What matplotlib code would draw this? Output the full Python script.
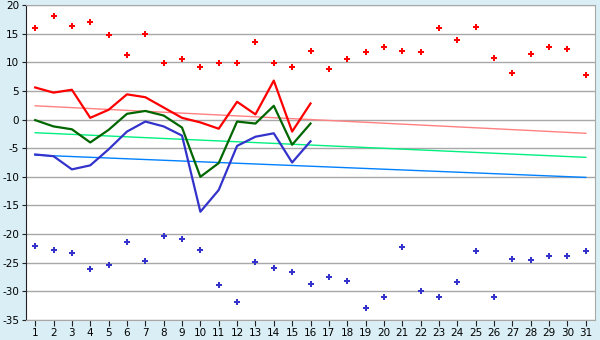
import numpy as np
import matplotlib.pyplot as plt

plt.rcParams['axes.unicode_minus'] = False

days = list(range(1, 32))

rec_max = [16.0, 18.1, 16.4, 17.1, 14.8, 11.3, 15.0, 9.9, 10.6, 9.1, 9.9, 9.8, 13.6, 9.8, 9.2, 12.0,
           8.9, 10.6, 11.8, 12.7, 12.0, 11.8, 16.0, 13.9, 16.2, 10.8, 8.2, 11.5, 12.7, 12.4, 7.7]
rec_min = [-22.1, -22.8, -23.3, -26.1, -25.4, -21.3, -24.7, -20.4, -20.9, -22.8, -28.9, -31.9, -24.9, -26.0, -26.7, -28.7,
           -27.5, -28.2, -32.9, -31.0, -22.3, -30.0, -31.0, -28.4, -23.0, -31.0, -24.4, -24.6, -23.9, -23.9, -23.0]

t_max = [5.6, 4.7, 5.2, 0.3, 1.7, 4.4, 3.9, 2.1, 0.3, -0.5, -1.6, 3.1, 0.9, 6.8, -2.1, 2.8]
t_mean = [-0.1, -1.2, -1.7, -4.0, -1.8, 1.0, 1.5, 0.7, -1.4, -10.0, -7.6, -0.35, -0.7, 2.4, -4.4, -0.7]
t_min = [-6.1, -6.4, -8.7, -8.0, -5.2, -2.1, -0.35, -1.2, -2.8, -16.1, -12.3, -4.6, -3.0, -2.4, -7.5, -3.8]

# normal (trend) lines: value on day 1 and day 31
norm_max = [2.4, -2.4]
norm_mean = [-2.3, -6.6]
norm_min = [-6.2, -10.1]

bg = '#d9eef5'
fig = plt.figure(figsize=(6, 3.4), dpi=100, facecolor=bg)
ax = fig.add_axes([26/600, 1-320/340, 569/600, 315/340])
ax.set_facecolor('white')

ax.yaxis.grid(True, color='#a8a8a8', lw=1)
ax.set_axisbelow(True)

ends = [1, 31]
ax.plot(ends, norm_max, color='#ff8080', lw=1)
ax.plot(ends, norm_mean, color='#00f080', lw=1)
ax.plot(ends, norm_min, color='#0080ff', lw=1)

n = len(t_max)
ax.plot(days[:n], t_max, color='#ff0000', lw=1.6)
ax.plot(days[:n], t_mean, color='#006600', lw=1.6)
ax.plot(days[:n], t_min, color='#3333cc', lw=1.6)

ax.scatter(days, rec_max, marker='P', s=13, color='#ff0000', linewidths=0)
ax.scatter(days, rec_min, marker='P', s=13, color='#3333cc', linewidths=0)

ax.set_xlim(0.5, 31.5)
ax.set_ylim(-35, 20)
ax.set_xticks(days)
ax.set_yticks(np.arange(-35, 21, 5))
ax.tick_params(axis='x', length=4, color='#222222', labelsize=7.5, pad=2)
ax.tick_params(axis='y', length=3, color='#222222', labelsize=7.5, pad=2)
ax.spines['top'].set_color('#a8a8a8')
ax.spines['right'].set_color('#a8a8a8')
ax.spines['left'].set_color('#222222')
ax.spines['bottom'].set_color('#a8a8a8')

plt.savefig('out.png', dpi=100, facecolor=bg)
